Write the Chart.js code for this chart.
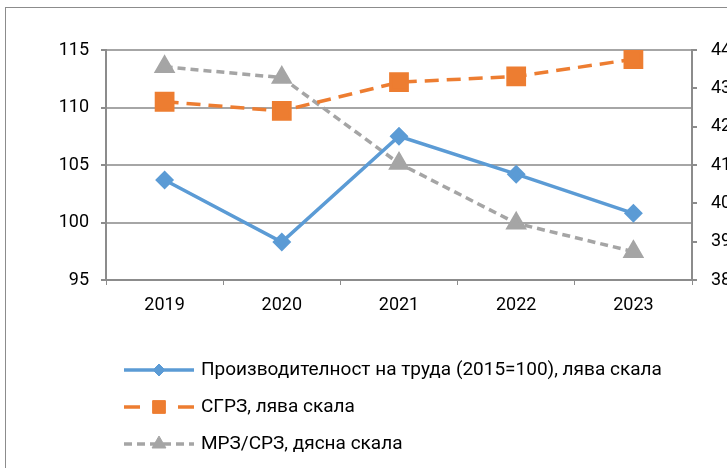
<!DOCTYPE html>
<html>
<head>
<meta charset="utf-8">
<script src="https://cdn.jsdelivr.net/npm/chart.js@4/dist/chart.umd.min.js"></script>
<style>
  html, body { margin: 0; padding: 0; background: #fff; overflow: hidden; width: 727px; height: 468px; }
  #wrap { position: absolute; left: 0; top: 0; width: 760px; height: 468px; }
  #frame { position: absolute; left: 5px; top: 7px; width: 800px; height: 600px;
           border-left: 1px solid #8c8c8c; border-top: 1px solid #8c8c8c; pointer-events: none; }
</style>
</head>
<body>
<div id="frame"></div>
<div id="wrap"><canvas id="c" width="760" height="468"></canvas></div>
<script>
const years = ['2019', '2020', '2021', '2022', '2023'];
const productivity = [103.7, 98.3, 107.5, 104.2, 100.8];
const sgrz = [110.5, 109.7, 112.2, 112.7, 114.2];
const mrzRatio = [43.56, 43.28, 41.04, 39.48, 38.74];
const seriesNames = [
  'Производителност на труда (2015=100), лява скала',
  'СГРЗ, лява скала',
  'МРЗ/СРЗ, дясна скала'
];
const leftTicks = { min: 95, max: 115, step: 5 };
const rightTicks = { min: 38, max: 44, step: 1 };

const FONT = 'Roboto';
const AXIS = '#8c8c8c';
const GRID = '#a6a6a6';

const legendPlugin = {
  id: 'stackLegend',
  afterDraw(chart) {
    const ctx = chart.ctx;
    const x0 = 124, x1 = 194, xt = 201, y0 = 370, dy = 37;
    chart.data.datasets.forEach((ds, i) => {
      const y = y0 + dy * i;
      ctx.save();
      ctx.strokeStyle = ds.borderColor;
      ctx.lineWidth = ds.borderWidth;
      ctx.setLineDash(ds.legendDash || []);
      ctx.beginPath();
      ctx.moveTo(x0, y);
      ctx.lineTo(x1, y);
      ctx.stroke();
      ctx.setLineDash([]);
      ctx.fillStyle = ds.pointBackgroundColor;
      ctx.strokeStyle = ds.pointBorderColor;
      ctx.lineWidth = 1;
      Chart.helpers.drawPoint(ctx, { pointStyle: ds.pointStyle, rotation: 0, borderWidth: 1, radius: ds.legendRadius },
        (x0 + x1) / 2, y);
      ctx.fillStyle = '#000';
      ctx.font = '19px ' + FONT;
      ctx.textBaseline = 'middle';
      ctx.textAlign = 'left';
      ctx.fillText(ds.label, xt, y);
      ctx.restore();
    });
  }
};

new Chart(document.getElementById('c'), {
  type: 'line',
  data: {
    labels: years,
    datasets: [
      {
        label: seriesNames[0], data: productivity, yAxisID: 'y',
        borderColor: '#5b9bd5', backgroundColor: '#5b9bd5', borderWidth: 3.5,
        pointStyle: 'rectRot', pointRadius: 7, pointBackgroundColor: '#5b9bd5', pointBorderColor: '#5b9bd5',
        legendRadius: 6, legendDash: [], tension: 0
      },
      {
        label: seriesNames[1], data: sgrz, yAxisID: 'y',
        borderColor: '#ed7d31', backgroundColor: '#ed7d31', borderWidth: 3.5, borderDash: [14, 8],
        pointStyle: 'rect', pointRadius: 11.5, pointBackgroundColor: '#ed7d31', pointBorderColor: '#ed7d31',
        legendRadius: 9, legendDash: [16, 38], tension: 0
      },
      {
        label: seriesNames[2], data: mrzRatio, yAxisID: 'y2',
        borderColor: '#a5a5a5', backgroundColor: '#a5a5a5', borderWidth: 3.5, borderDash: [8, 5],
        pointStyle: 'triangle', pointRadius: 9, pointBackgroundColor: '#a5a5a5', pointBorderColor: '#a5a5a5',
        legendRadius: 8, legendDash: [8, 5], tension: 0
      }
    ]
  },
  options: {
    responsive: false,
    animation: false,
    layout: { padding: { top: 50, left: 0, right: 0, bottom: 0 } },
    plugins: { legend: { display: false }, tooltip: { enabled: false } },
    scales: {
      x: {
        offset: true,
        grid: { drawOnChartArea: false, drawTicks: true, tickLength: 5, tickColor: AXIS, offset: true },
        border: { color: AXIS, width: 2 },
        ticks: { color: '#000', font: { family: FONT, size: 18 }, padding: 10, maxRotation: 0 },
        afterFit(s) { s.height = 188; }
      },
      y: {
        position: 'left',
        min: leftTicks.min, max: leftTicks.max,
        grid: { color: GRID, lineWidth: 2, drawTicks: true, tickLength: 5, tickColor: AXIS },
        border: { color: AXIS, width: 2 },
        ticks: { stepSize: leftTicks.step, color: '#000', font: { family: FONT, size: 18 }, padding: 12 },
        afterFit(s) { s.width = 106; }
      },
      y2: {
        position: 'right',
        min: rightTicks.min, max: rightTicks.max,
        grid: { drawOnChartArea: false, drawTicks: true, tickLength: 5, tickColor: AXIS, lineWidth: 2 },
        border: { color: AXIS, width: 2 },
        ticks: { stepSize: rightTicks.step, color: '#000', font: { family: FONT, size: 18 }, padding: 14 },
        afterFit(s) { s.width = 68; }
      }
    }
  },
  plugins: [legendPlugin]
});
</script>
</body>
</html>
